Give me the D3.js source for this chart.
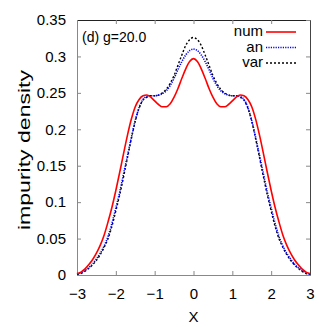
<!DOCTYPE html>
<html>
<head>
<meta charset="utf-8">
<script src="https://cdn.jsdelivr.net/npm/d3@7"></script>
<style>
  body { margin: 0; background: #fff; }
  text { font-family: 'Liberation Sans Narrow', 'Liberation Sans', sans-serif; }
</style>
</head>
<body>
<div id="chart"></div>
<script>
// positions along X, -3 .. 3 step 0.1
const xs = d3.range(-30, 31).map(i => i / 10)

// left half values (x = -3.0 .. 0.0); curves are symmetric
const numLeft = [0.002, 0.004, 0.008, 0.014, 0.021, 0.030, 0.041, 0.055, 0.073, 0.093,
  0.116, 0.141, 0.167, 0.192, 0.214, 0.231, 0.241, 0.246, 0.247, 0.244,
  0.239, 0.234, 0.231, 0.231, 0.235, 0.244, 0.256, 0.270, 0.283, 0.293, 0.297]
const anLeft = [0.001, 0.003, 0.006, 0.010, 0.015, 0.022, 0.030, 0.040, 0.053, 0.071,
  0.092, 0.114, 0.139, 0.164, 0.189, 0.212, 0.230, 0.241, 0.245, 0.246,
  0.246, 0.247, 0.249, 0.253, 0.260, 0.270, 0.282, 0.293, 0.302, 0.308, 0.310]
const varLeft = [0.001, 0.002, 0.005, 0.009, 0.014, 0.020, 0.028, 0.038, 0.050, 0.067,
  0.088, 0.110, 0.135, 0.161, 0.187, 0.211, 0.229, 0.240, 0.244, 0.246,
  0.246, 0.247, 0.250, 0.255, 0.263, 0.274, 0.288, 0.302, 0.315, 0.323, 0.326]

const full = left => left.concat(left.slice(0, -1).reverse())
const series = [
  {name: 'num', values: full(numLeft), color: '#ff0000', dash: null, width: 1.6},
  {name: 'an', values: full(anLeft), color: '#0000ff', dash: '1.2,1.2', width: 1.6},
  {name: 'var', values: full(varLeft), color: '#000000', dash: '2,2', width: 1.4},
]

const xTicks = [-3, -2, -1, 0, 1, 2, 3]
const yTicks = [0, 0.05, 0.1, 0.15, 0.2, 0.25, 0.3, 0.35]

const width = 327
const height = 327
const margin = ({top: 20, right: 17, bottom: 52, left: 77})

const x = d3.scaleLinear()
  .domain([-3, 3])
  .range([margin.left, width - margin.right])
const y = d3.scaleLinear()
  .domain([0, 0.35])
  .range([height - margin.bottom, margin.top])

const svg = d3.create('svg')
  .attr('width', width)
  .attr('height', height)
  .attr('viewBox', [0, 0, width, height])

const yFmt = d => d === 0 ? '0' : String(+d.toFixed(2))

// axes with inward ticks, mirrored on top/right
svg.append('g')
  .attr('transform', `translate(0,${y(0)})`)
  .call(d3.axisBottom(x).tickValues(xTicks).tickFormat(d3.format('d')).tickSizeInner(-4).tickSizeOuter(0).tickPadding(13))
  .call(g => g.select('.domain').attr('stroke', '#888'))
  .call(g => g.selectAll('.tick line').attr('stroke', '#888'))
  .call(g => g.selectAll('text').attr('font-size', 15).attr('fill', '#000'))

svg.append('g')
  .attr('transform', `translate(${x(-3)},0)`)
  .call(d3.axisLeft(y).tickValues(yTicks).tickFormat(yFmt).tickSizeInner(-4).tickSizeOuter(0).tickPadding(11))
  .call(g => g.select('.domain').attr('stroke', '#888'))
  .call(g => g.selectAll('.tick line').attr('stroke', '#888'))
  .call(g => g.selectAll('text').attr('font-size', 15).attr('fill', '#000'))

svg.append('g')
  .attr('transform', `translate(0,${y(0.35)})`)
  .call(d3.axisTop(x).tickValues(xTicks).tickFormat('').tickSizeInner(-4).tickSizeOuter(0))
  .call(g => g.select('.domain').attr('stroke', '#222'))
  .call(g => g.selectAll('.tick line').attr('stroke', '#888'))

svg.append('g')
  .attr('transform', `translate(${x(3)},0)`)
  .call(d3.axisRight(y).tickValues(yTicks).tickFormat('').tickSizeInner(-4).tickSizeOuter(0))
  .call(g => g.select('.domain').attr('stroke', '#444'))
  .call(g => g.selectAll('.tick line').attr('stroke', '#888'))

// curves
const line = d3.line()
  .x((d, i) => x(xs[i]))
  .y(d => y(d))
  .curve(d3.curveMonotoneX)

svg.append('g')
  .selectAll('path')
  .data(series.slice().reverse())
  .join('path')
    .attr('fill', 'none')
    .attr('stroke', d => d.color)
    .attr('stroke-width', d => d.width)
    .attr('stroke-dasharray', d => d.dash)
    .attr('d', d => line(d.values))

// legend
const legend = svg.append('g')
  .selectAll('g')
  .data(series)
  .join('g')
    .attr('transform', (d, i) => `translate(0,${32 + i * 15.5})`)
legend.append('text')
  .attr('x', 263)
  .attr('y', 4)
  .attr('text-anchor', 'end')
  .attr('font-size', 15)
  .text(d => d.name)
legend.append('line')
  .attr('x1', 266)
  .attr('x2', 296)
  .attr('stroke', d => d.color)
  .attr('stroke-width', d => d.width)
  .attr('stroke-dasharray', d => d.dash)

svg.append('text')
  .attr('x', 82)
  .attr('y', 41.5)
  .attr('font-size', 14)
  .text('(d) g=20.0')

svg.append('text')
  .attr('x', x(0))
  .attr('y', 322)
  .attr('text-anchor', 'middle')
  .attr('font-size', 15)
  .text('X')

svg.append('text')
  .attr('transform', 'translate(30,150) rotate(-90)')
  .attr('text-anchor', 'middle')
  .attr('font-family', "'Liberation Sans', sans-serif")
  .attr('font-size', 17)
  .attr('textLength', 160)
  .attr('lengthAdjust', 'spacingAndGlyphs')
  .text('impurity density')

document.getElementById('chart').appendChild(svg.node())
</script>
</body>
</html>
